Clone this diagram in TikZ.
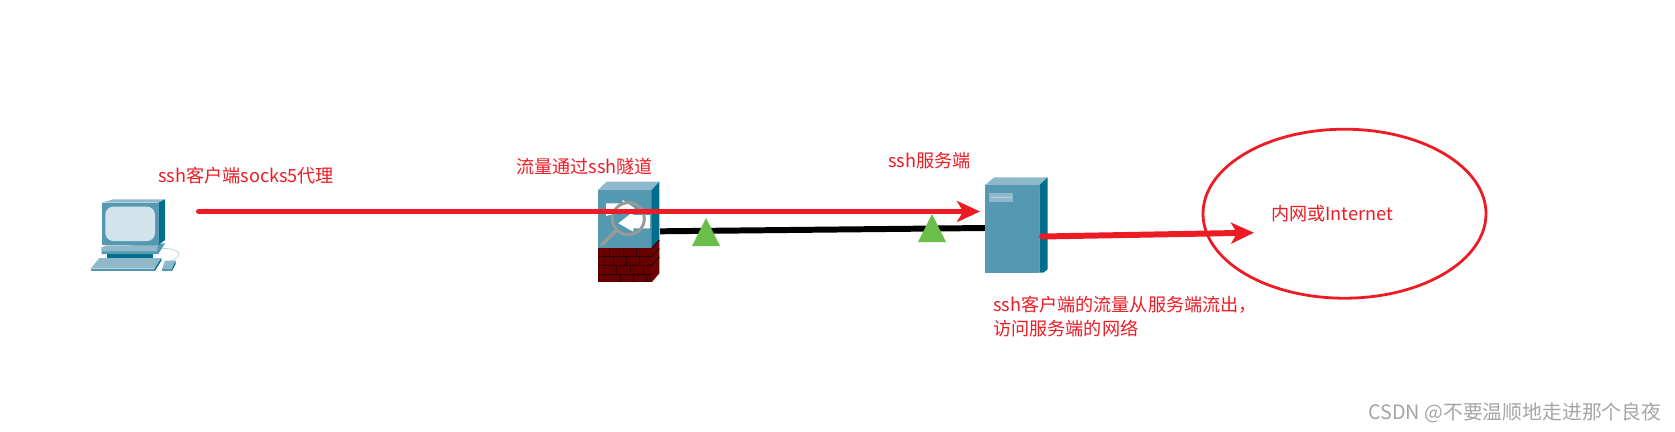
\documentclass[tikz,border=0pt]{standalone}
\usepackage{fontspec}
\setmainfont{Noto Sans CJK SC}
\usetikzlibrary{arrows.meta,shapes.geometric}
\definecolor{cfront}{HTML}{5499B1}
\definecolor{cside}{HTML}{006E8C}
\definecolor{ctop}{HTML}{8FB9CB}
\definecolor{cscreen}{HTML}{D3E3EB}
\definecolor{cred}{HTML}{ED1C24}
\definecolor{cgreen}{HTML}{6ABF4B}
\definecolor{cbrick}{HTML}{660000}
\definecolor{cbrickside}{HTML}{6E0505}
\definecolor{cmortar}{HTML}{2A0000}
\tikzset{
  redlabel/.style={anchor=west,inner sep=0pt,text=cred,font=\fontsize{18.2}{24}\selectfont,align=left},
  redarrow/.style={draw=cred,line width=6pt,line cap=round,-{Stealth[length=23pt,width=21pt,inset=6pt]}},
  tunnel/.style={draw=black,line width=6pt},
  marker/.style={fill=cgreen,draw=none},
  front/.style={fill=cfront,draw=none},
  side/.style={fill=cside,draw=none},
  topface/.style={fill=ctop,draw=none},
  netcloud/.style={draw=cred,line width=2.8pt,ellipse,inner sep=0pt,minimum width=283bp,minimum height=169bp},
}
\begin{document}
\begin{tikzpicture}[x=1bp,y=-1bp]
\useasboundingbox (0,0) rectangle (1675,431);
\fill[white] (0,0) rectangle (1675,431);
% named connector ends
\coordinate (fwout) at (660,231.3);
\coordinate (srvin) at (985,228);
\coordinate (clientout) at (199,211.5);
\coordinate (srvtip) at (980,211.5);
\coordinate (srvout) at (1042,236.5);
\coordinate (nettip) at (1254,232.7);
% tunnel
\draw[tunnel] (fwout) -- (srvin);
% firewall
\begin{scope}[shift={(500,140)},scale=1/3]
  \fill[topface] (294,150) -- (320,125) -- (478,125) -- (455,150) -- cycle;
  \fill[front] (294,150) rectangle (455,325);
  \fill[side] (455,150) -- (478,125) -- (478,300) -- (455,325) -- cycle;
  \fill[cbrick] (294,325) rectangle (455,427);
  \fill[cbrickside] (455,325) -- (478,300) -- (478,400) -- (455,427) -- cycle;
  \foreach \y in {350,376,402} \draw[cmortar,line width=1pt] (294,\y) -- (455,\y);
  \foreach \y in {335,362,388,414} \foreach \x in {335,375,415}
    \draw[cmortar,line width=1pt] (\x+\y*0.4-140,\y-10) -- ++(0,22);
  \foreach \y in {325,350,376} \draw[cmortar,line width=1pt] (455,\y) -- (478,\y-25);
  \fill[white] (318,190) -- (368,190) -- (368,180) -- (405,205) -- (318,228) -- cycle;
  \fill[white] (450,225) -- (400,225) -- (400,215) -- (355,250) -- (400,275) -- (400,265) -- (450,265) -- cycle;
  \draw[black!40,line width=3pt] (385,236) circle[radius=48];
  \draw[black!40,line width=3.5pt,line cap=round] (350,270) -- (305,315);
\end{scope}
% server
\begin{scope}[shift={(880,140)},scale=1/3]
  \fill[topface] (316,135) -- (342,112) -- (503,112) -- (478,135) -- cycle;
  \fill[front] (316,135) rectangle (478,398);
  \fill[side] (478,135) -- (503,112) -- (503,388) -- (490,398) -- (478,398) -- cycle;
  \fill[ctop] (327,158) rectangle (400,187);
  \draw[cscreen!60!ctop,line width=0.7pt] (332,173) -- (395,173);
\end{scope}
% computer
\begin{scope}[shift={(70,140)},scale=1/3]
  \draw[cscreen!70!ctop,line width=0.8pt] (272,325) .. controls (340,325) and (340,350) .. (300,364);
  \fill[cside] (110,335) rectangle (250,356);
  \fill[front] (95,322) -- (285,310) -- (265,342) -- (95,342) -- cycle;
  \fill[topface] (95,322) -- (110,316) -- (265,316) -- (260,334) -- (95,334) -- cycle;
  \fill[topface] (96,188) -- (130,178) -- (285,178) -- (265,188) -- cycle;
  \fill[front] (96,188) rectangle (265,315);
  \fill[side] (265,188) -- (285,178) -- (285,300) -- (265,315) -- cycle;
  \fill[cscreen,rounded corners=8pt] (106,200) rectangle (255,303);
  \fill[topface] (88,354) -- (274,354) -- (254,386) -- (62,386) -- cycle;
  \fill[front] (62,386) rectangle (254,394);
  \fill[side] (254,386) -- (274,354) -- (274,362) -- (254,394) -- cycle;
  \fill[topface] (285,362) -- (317,362) -- (305,388) -- (276,388) -- cycle;
  \fill[front] (276,388) rectangle (305,394);
  \fill[side] (305,388) -- (317,362) -- (317,372) -- (305,394) -- cycle;
\end{scope}
% markers
\fill[marker] (706,218) -- (720,246) -- (692,246) -- cycle;
\fill[marker] (932,214) -- (946,242) -- (918,242) -- cycle;
% internet ellipse
\node[netcloud] (net) at (1344.5,213.7) {};
% flows
\draw[redarrow] (clientout) -- (srvtip);
\draw[redarrow] (srvout) -- (nettip);
% labels
\node[redlabel] (l1) at (158,176) {ssh客户端socks5代理};
\node[redlabel] (l2) at (516,167) {流量通过ssh隧道};
\node[redlabel] (l3) at (888,161) {ssh服务端};
\node[redlabel,anchor=north west] (l4) at (993,296) {ssh客户端的流量从服务端流出，\\访问服务端的网络};
\node[redlabel] (l5) at (1271,214) {内网或Internet};
\node[anchor=west,inner sep=0pt,text=black!35,font=\fontsize{19.9}{24}\selectfont] (wm) at (1368,413) {CSDN @不要温顺地走进那个良夜};
\end{tikzpicture}
\end{document}
